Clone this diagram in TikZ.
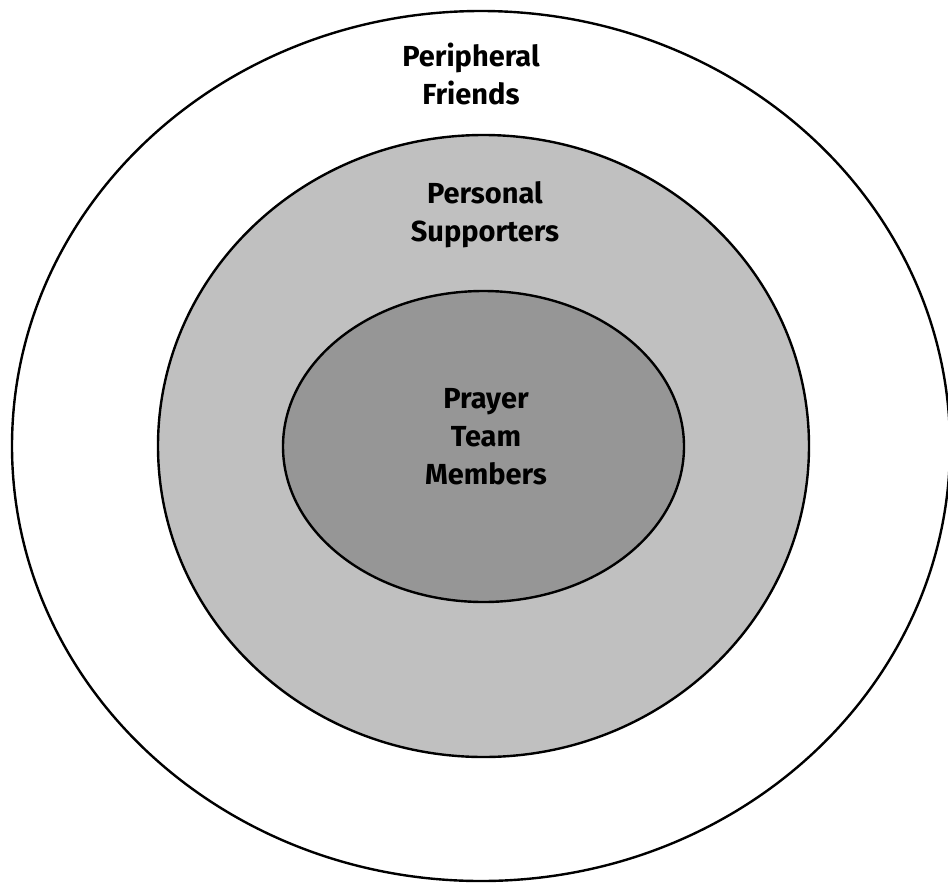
\documentclass[tikz,border=0pt]{standalone}
\usepackage{fontspec}
\setmainfont{Fira Sans}
\definecolor{midgray}{RGB}{192,192,192}
\definecolor{innergray}{RGB}{150,150,150}
\tikzset{
  ring/.style={draw=black, line width=2.4pt},
  lbl/.style={font=\bfseries\fontsize{29}{38}\selectfont, align=center, text=black, inner sep=0pt}
}
\begin{document}
\begin{tikzpicture}[x=1pt,y=-1pt]
\useasboundingbox (0,0) rectangle (948,884);
\clip (0,0) rectangle (948,884);
\fill[white] (0,0) rectangle (948,884);
\path[ring, fill=white] (481,446) ellipse [x radius=469, y radius=435];
\path[ring, fill=midgray] (483.5,446) ellipse [x radius=325.5, y radius=311];
\path[ring, fill=innergray] (483.5,446.5) ellipse [x radius=200.5, y radius=155.5];
\node[lbl] (pf) at (471,74) {Peripheral\\Friends};
\node[lbl] (ps) at (485,215) {Personal\\Supporters};
\node[lbl] (pt) at (486,437) {Prayer\\Team\\Members};
\end{tikzpicture}
\end{document}
